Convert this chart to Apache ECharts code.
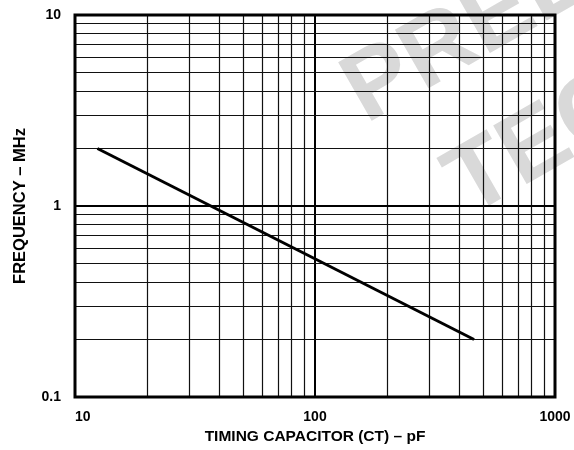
<!DOCTYPE html>
<html>
<head>
<meta charset="utf-8">
<script src="https://cdn.jsdelivr.net/npm/echarts@6/dist/echarts.min.js"></script>
<style>
  html, body { margin: 0; padding: 0; background: #fff; }
  #chart { width: 574px; height: 450px; }
</style>
</head>
<body>
<div id="chart"></div>
<script>
// curve: frequency vs timing capacitor
var capPF = [12.4, 460]
var freqMHz = [2, 0.2]

// grid lines of the log-log paper
var xMinorGrid = [20, 30, 40, 50, 60, 70, 80, 90, 200, 300, 400, 500, 600, 700, 800, 900]
var xMajorGrid = [100]
var yMinorGrid = [0.2, 0.3, 0.4, 0.5, 0.6, 0.7, 0.8, 0.9, 2, 3, 4, 5, 6, 7, 8, 9]
var yMajorGrid = [1]

var xTickLabels = [10, 100, 1000]
var yTickLabels = [0.1, 1, 10]

var FONT = 'Liberation Sans'
var chart = echarts.init(document.getElementById('chart'))

var gridLines = []
xMinorGrid.forEach(function (v) {
  gridLines.push({ xAxis: v, lineStyle: { width: 1.2, color: '#111', type: 'solid' } })
})
xMajorGrid.forEach(function (v) {
  gridLines.push({ xAxis: v, lineStyle: { width: 2, color: '#000', type: 'solid' } })
})
yMinorGrid.forEach(function (v) {
  gridLines.push({ yAxis: v, lineStyle: { width: 1.2, color: '#111', type: 'solid' } })
})
yMajorGrid.forEach(function (v) {
  gridLines.push({ yAxis: v, lineStyle: { width: 2, color: '#000', type: 'solid' } })
})

var wmFont = 'bold 98px "Liberation Sans"'

var option = {
  animation: false,
  graphic: [
    {
      type: 'text', x: 377, y: 143, rotation: 0.52, zlevel: 0, z: 0,
      style: { text: 'PRELIMINARY', fill: '#d9d9d9', font: wmFont, verticalAlign: 'bottom' }
    },
    {
      type: 'text', x: 480, y: 236, rotation: 0.52, zlevel: 0, z: 0,
      style: { text: 'TECHNICAL DATA', fill: '#d9d9d9', font: wmFont, verticalAlign: 'bottom' }
    }
  ],
  grid: {
    left: 75,
    right: 19,
    top: 15,
    bottom: 51,
    show: true,
    zlevel: 1,
    borderWidth: 3,
    borderColor: '#000',
    backgroundColor: 'transparent'
  },
  xAxis: {
    type: 'log',
    logBase: 10,
    min: 10,
    max: 1000,
    zlevel: 1,
    name: 'TIMING CAPACITOR (CT) – pF',
    nameLocation: 'middle',
    nameGap: 32,
    nameTextStyle: { fontFamily: FONT, fontWeight: 'bold', fontSize: 15.5, color: '#000' },
    axisLine: { show: false },
    axisTick: { show: false },
    splitLine: { show: false },
    axisLabel: {
      margin: 13,
      fontFamily: FONT,
      fontWeight: 'bold',
      fontSize: 14,
      color: '#000',
      alignMinLabel: 'left',
      formatter: function (v) {
        return xTickLabels.indexOf(Math.round(v)) >= 0 ? String(Math.round(v)) : ''
      }
    }
  },
  yAxis: {
    type: 'log',
    logBase: 10,
    min: 0.1,
    max: 10,
    zlevel: 1,
    name: 'FREQUENCY – MHz',
    nameLocation: 'middle',
    nameGap: 46,
    nameTextStyle: { fontFamily: FONT, fontWeight: 'bold', fontSize: 16.5, color: '#000' },
    axisLine: { show: false },
    axisTick: { show: false },
    splitLine: { show: false },
    axisLabel: {
      margin: 14,
      fontFamily: FONT,
      fontWeight: 'bold',
      fontSize: 14,
      color: '#000',
      formatter: function (v) {
        var r = Math.round(v * 10) / 10
        return yTickLabels.indexOf(r) >= 0 ? String(r) : ''
      }
    }
  },
  series: [
    {
      name: 'grid',
      type: 'line',
      zlevel: 1,
      z: 1,
      silent: true,
      showSymbol: false,
      lineStyle: { opacity: 0 },
      data: capPF.map(function (x, i) { return [x, freqMHz[i]] }),
      markLine: {
        silent: true,
        symbol: ['none', 'none'],
        label: { show: false },
        emphasis: { disabled: true },
        data: gridLines
      }
    },
    {
      name: 'Frequency',
      type: 'line',
      zlevel: 1,
      z: 5,
      showSymbol: false,
      lineStyle: { width: 3, color: '#000' },
      data: capPF.map(function (x, i) { return [x, freqMHz[i]] })
    }
  ]
}
chart.setOption(option)
</script>
</body>
</html>
